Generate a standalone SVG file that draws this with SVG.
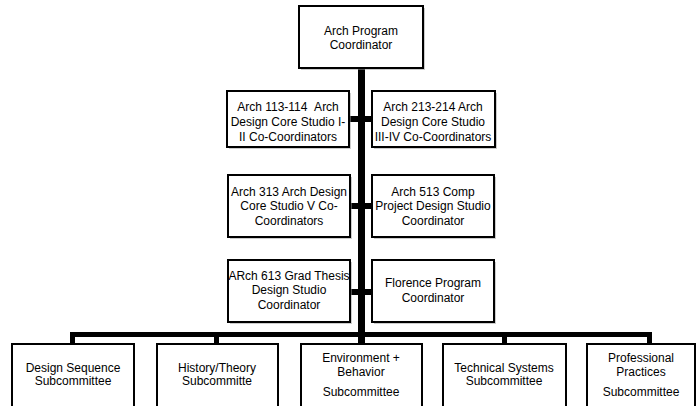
<svg xmlns="http://www.w3.org/2000/svg" width="697" height="406" viewBox="0 0 697 406">
<style>
.box{fill:#fff;stroke:#000;stroke-width:2}
.sh{fill:#999;opacity:0.5}
text{font-family:"Liberation Sans",Arial,sans-serif;font-size:12px;fill:#000;text-anchor:middle}
.ln{fill:#000}
</style>
<rect width="697" height="406" fill="#fff"/>
<g id="connectors">
<rect class="ln" x="358" y="68" width="7" height="276"/>
<rect class="ln" x="70" y="332" width="582" height="5"/>
<rect class="ln" x="70" y="332" width="5" height="12"/>
<rect class="ln" x="214" y="332" width="5" height="12"/>
<rect class="ln" x="502" y="332" width="5" height="12"/>
<rect class="ln" x="647" y="332" width="5" height="12"/>
<rect class="ln" x="349" y="116" width="24" height="6"/>
<rect class="ln" x="350" y="203" width="23" height="6"/>
<rect class="ln" x="350" y="289" width="23" height="6"/>
</g>
<g id="n0"><rect class="sh" x="301" y="8" width="124" height="62"/><rect class="box" x="299" y="6" width="124" height="62"/><text x="361" y="35">Arch Program</text><text x="361" y="49">Coordinator</text></g>
<g id="n1"><rect class="sh" x="229" y="93" width="122" height="56"/><rect class="box" x="227" y="91" width="122" height="56"/><text x="288" y="111">Arch 113-114 &#160;Arch</text><text x="288" y="126">Design Core Studio I-</text><text x="288" y="141">II Co-Coordinators</text></g>
<g id="n2"><rect class="sh" x="374" y="93" width="123" height="56"/><rect class="box" x="372" y="91" width="123" height="56"/><text x="433" y="111">Arch 213-214 Arch</text><text x="433" y="126">Design Core Studio</text><text x="433" y="141">III-IV Co-Coordinators</text></g>
<g id="n3"><rect class="sh" x="230" y="177" width="122" height="62"/><rect class="box" x="228" y="175" width="122" height="62"/><text x="289" y="196">Arch 313 Arch Design</text><text x="289" y="210">Core Studio V Co-</text><text x="289" y="225">Coordinators</text></g>
<g id="n4"><rect class="sh" x="374" y="177" width="122" height="62"/><rect class="box" x="372" y="175" width="122" height="62"/><text x="433" y="196">Arch 513 Comp</text><text x="433" y="210">Project Design Studio</text><text x="433" y="225">Coordinator</text></g>
<g id="n5"><rect class="sh" x="230" y="262" width="122" height="62"/><rect class="box" x="228" y="260" width="122" height="62"/><text x="289" y="280">ARch 613 Grad Thesis</text><text x="289" y="294">Design Studio</text><text x="289" y="309">Coordinator</text></g>
<g id="n6"><rect class="sh" x="374" y="262" width="122" height="62"/><rect class="box" x="372" y="260" width="122" height="62"/><text x="433" y="287">Florence Program</text><text x="433" y="302">Coordinator</text></g>
<g id="n7"><rect class="box" x="12" y="344" width="122" height="70"/><text x="73" y="372">Design Sequence</text><text x="73" y="385">Subcommittee</text></g>
<g id="n8"><rect class="box" x="157" y="344" width="121" height="70"/><text x="217" y="372">History/Theory</text><text x="217" y="385">Subcommitte</text></g>
<g id="n9"><rect class="box" x="301" y="344" width="121" height="70"/><text x="361" y="362">Environment +</text><text x="361" y="376">Behavior</text><text x="361" y="396">Subcommittee</text></g>
<g id="n10"><rect class="box" x="443" y="344" width="123" height="70"/><text x="504" y="372">Technical Systems</text><text x="504" y="385">Subcommittee</text></g>
<g id="n11"><rect class="box" x="587" y="344" width="108" height="70"/><text x="641" y="362">Professional</text><text x="641" y="376">Practices</text><text x="641" y="396">Subcommittee</text></g>
</svg>
